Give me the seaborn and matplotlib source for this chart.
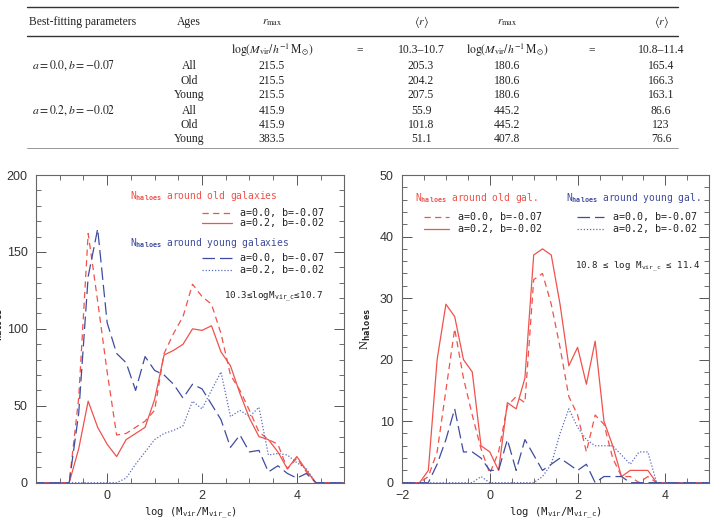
import numpy as np
import pandas as pd
import seaborn as sns
import matplotlib.pyplot as plt
from matplotlib.ticker import MultipleLocator

# ---- table values ----
params = [r'$a = 0.0, b = -0.07$', r'$a = 0.2, b = -0.02$']
ages = ['All', 'Old', 'Young', 'All', 'Old', 'Young']
rmax_low = ['215.5', '215.5', '215.5', '415.9', '415.9', '383.5']
rmean_low = ['205.3', '204.2', '207.5', '55.9', '101.8', '51.1']
rmax_high = ['180.6', '180.6', '180.6', '445.2', '445.2', '407.8']
rmean_high = ['165.4', '166.3', '163.1', '86.6', '123', '76.6']

# ---- left panel: 10.3 <= log M_vir_c <= 10.7 ----
x_left = [-1.6, -1.4, -1.2, -1.0, -0.8, -0.6, -0.4, -0.2, 0.0, 0.2, 0.4, 0.6,
          0.8, 1.0, 1.2, 1.4, 1.6, 1.8, 2.0, 2.2, 2.4, 2.6, 2.8, 3.0, 3.2, 3.4,
          3.6, 3.8, 4.0, 4.2, 4.4, 4.6, 4.8, 5.0]
old_a0_left = [0, 0, 0, 0, 0, 55, 162, 118, 72, 31, 32, 36, 40, 47, 84, 97,
               108, 129, 121, 116, 97, 70, 60, 47, 33, 28, 25, 9, 16, 7, 0, 0, 0, 0]
old_a2_left = [0, 0, 0, 0, 0, 22, 53, 36, 25, 17, 28, 32, 36, 54, 83, 86,
               90, 100, 99, 102, 85, 76, 58, 42, 30, 28, 20, 9, 17, 8, 0, 0, 0, 0]
young_a0_left = [0, 0, 0, 0, 0, 45, 134, 165, 104, 84, 78, 60, 82, 73, 70, 64,
                 55, 64, 61, 51, 41, 23, 31, 20, 21, 7, 11, 6, 3, 6, 0, 0, 0, 0]
young_a2_left = [0, 0, 0, 0, 0, 0, 0, 0, 0, 0, 3, 12, 20, 28, 32, 34,
                 37, 53, 48, 60, 72, 43, 47, 43, 49, 18, 19, 18, 13, 9, 0, 0, 0, 0]

# ---- right panel: 10.8 <= log M_vir_c <= 11.4 ----
x_right = [-2.0, -1.8, -1.6, -1.4, -1.2, -1.0, -0.8, -0.6, -0.4, -0.2, 0.0, 0.2,
           0.4, 0.6, 0.8, 1.0, 1.2, 1.4, 1.6, 1.8, 2.0, 2.2, 2.4, 2.6, 2.8, 3.0,
           3.2, 3.4, 3.6, 3.8, 4.0, 4.2, 4.4, 4.6, 4.8, 5.0]
old_a0_right = [0, 0, 0, 1, 5, 15, 25, 17, 11, 5.5, 1.5, 5, 12.5, 14, 13, 33,
                34, 29, 22, 14, 11, 5, 11, 9.5, 4, 1, 1, 0, 1, 0, 0, 0, 0, 0, 0, 0]
old_a2_right = [0, 0, 0, 2, 20, 29, 27, 20, 18, 6, 5, 2, 13, 12, 17, 37,
                38, 37, 29, 19, 22, 16, 23, 10, 6, 1, 2, 2, 2, 0, 0, 0, 0, 0, 0, 0]
young_a0_right = [0, 0, 0, 0, 3, 7, 12, 5, 5, 4, 2, 2, 7, 2, 7, 4.5,
                  2, 3, 4, 3, 2, 3, 0, 1, 1, 1, 0, 0, 0, 0, 0, 0, 0, 0, 0, 0]
young_a2_right = [0, 0, 0, 0, 0, 0, 0, 0, 0, 1, 0, 0, 0, 0, 0, 0,
                  1, 3, 8, 12, 9, 7, 6, 6, 6, 4.5, 3, 5, 5, 0, 0, 0, 0, 0, 0, 0]

RED = '#f0524c'
BLUE = '#3f4c9e'
BLUE_DOT = '#5c6cb8'
MONO = ['DejaVu Sans Mono']

sns.set_style('ticks')
plt.rcParams['font.family'] = ['Liberation Sans', 'DejaVu Sans']
plt.rcParams['mathtext.fontset'] = 'custom'
plt.rcParams['mathtext.rm'] = 'DejaVu Sans Mono'
plt.rcParams['mathtext.it'] = 'DejaVu Sans Mono'
plt.rcParams['mathtext.bf'] = 'DejaVu Sans Mono:bold'

styles = {
    'old_a0': dict(color=RED, linestyle=(0, (5, 3.5))),
    'old_a2': dict(color=RED, linestyle='-'),
    'young_a0': dict(color=BLUE, linestyle=(0, (10, 4))),
    'young_a2': dict(color=BLUE_DOT, linestyle=(0, (1, 1.5))),
}

fig = plt.figure(figsize=(7.14, 5.2), dpi=100)

# ---- table ----
W, H = 714.0, 520.0
def ft(px, py, s, ha='center', **kw):
    fig.text(px / W, 1 - py / H, s, ha=ha, va='center', fontsize=8.4,
             family=['Liberation Serif', 'DejaVu Serif'], math_fontfamily='stix',
             color='#222222', **kw)

for yy, lw, c in [(7, 1.0, '#333333'), (36, 1.0, '#333333'), (148, 0.6, '#888888')]:
    fig.add_artist(plt.Line2D([27 / W, 678 / W], [1 - yy / H] * 2, color=c, lw=lw))

ft(29, 22, 'Best-fitting parameters', ha='left')
ft(189, 22, 'Ages')
ft(272, 22, r'$r_{\rm max}$')
ft(421, 22, r'$\langle r\rangle$')
ft(507, 22, r'$r_{\rm max}$')
ft(661, 22, r'$\langle r\rangle$')
ft(272, 50, r'$\log(M_{\rm vir}/h^{-1}\,{\rm M}_{\odot})$')
ft(360, 50, '=')
ft(421, 50, '10.3–10.7')
ft(507, 50, r'$\log(M_{\rm vir}/h^{-1}\,{\rm M}_{\odot})$')
ft(592, 50, '=')
ft(661, 50, '10.8–11.4')
row_y = [66, 81, 95, 111, 125, 139]
ft(32, row_y[0], params[0], ha='left')
ft(32, row_y[3], params[1], ha='left')
for i, yy in enumerate(row_y):
    ft(189, yy, ages[i])
    ft(272, yy, rmax_low[i])
    ft(421, yy, rmean_low[i])
    ft(507, yy, rmax_high[i])
    ft(661, yy, rmean_high[i])

# ---- panels ----
ax1 = fig.add_axes([36 / W, 1 - 482.7 / H, 308.3 / W, 307.7 / H])
ax2 = fig.add_axes([402 / W, 1 - 482.7 / H, 307.3 / W, 307.7 / H])

panels = [
    (ax1, x_left, [old_a0_left, old_a2_left, young_a0_left, young_a2_left]),
    (ax2, x_right, [old_a0_right, old_a2_right, young_a0_right, young_a2_right]),
]
for ax, xs, series in panels:
    for key, ys in zip(['old_a0', 'old_a2', 'young_a0', 'young_a2'], series):
        df = pd.DataFrame({'x': xs, 'y': ys})
        sns.lineplot(data=df, x='x', y='y', ax=ax, lw=0.9, errorbar=None,
                     **styles[key])

ax1.set_xlim(-1.5, 5)
ax1.set_ylim(0, 200)
ax1.yaxis.set_major_locator(MultipleLocator(50))
ax1.yaxis.set_minor_locator(MultipleLocator(10))
ax2.set_xlim(-2, 5)
ax2.set_ylim(0, 50)
ax2.yaxis.set_major_locator(MultipleLocator(10))
ax2.yaxis.set_minor_locator(MultipleLocator(2))

for ax in (ax1, ax2):
    ax.xaxis.set_major_locator(MultipleLocator(2))
    ax.xaxis.set_minor_locator(MultipleLocator(0.5))
    ax.tick_params(which='both', direction='in', top=True, right=True,
                   color='#555555', labelsize=9, labelcolor='#333333')
    ax.tick_params(which='major', length=7, width=0.7)
    ax.tick_params(which='minor', length=3.5, width=0.6)
    ax.tick_params(axis='x', which='major', pad=5)
    ax.tick_params(axis='y', which='major', pad=6)
    for sp in ax.spines.values():
        sp.set_color('#666666')
        sp.set_linewidth(0.8)
    ax.set_xlabel(r'log (M$_{\rm vir}$/M$_{\rm vir\_c}$)', family=MONO,
                  fontsize=7.6, color='#222222')
    ax.xaxis.set_label_coords(0.5, -0.072)
    ax.set_ylabel(r'N$_{\bf haloes}$', family=['Liberation Serif'],
                  fontsize=9, color='#222222')

ax1.yaxis.set_label_coords(-0.102, 0.5)
ax2.yaxis.set_label_coords(-0.095, 0.5)

def key_text(ax, x0, x1, y, style, label):
    ax.plot([x0, x1], [y, y], transform=ax.transAxes, lw=0.9, **style)
    ax.text(x1 + 0.028, y, label, transform=ax.transAxes, ha='left', va='center',
            family=MONO, fontsize=7.2, color='#222222')

# left panel legend
ax1.text(0.305, 0.931, r'N$_{\bf haloes}$ around old galaxies', transform=ax1.transAxes,
         family=MONO, fontsize=6.9, color=RED, va='center')
key_text(ax1, 0.537, 0.635, 0.877, styles['old_a0'], 'a=0.0, b=-0.07')
key_text(ax1, 0.537, 0.635, 0.845, styles['old_a2'], 'a=0.2, b=-0.02')
ax1.text(0.305, 0.780, r'N$_{\bf haloes}$ around young galaxies', transform=ax1.transAxes,
         family=MONO, fontsize=6.9, color=BLUE, va='center')
key_text(ax1, 0.537, 0.635, 0.729, styles['young_a0'], 'a=0.0, b=-0.07')
key_text(ax1, 0.537, 0.635, 0.691, styles['young_a2'], 'a=0.2, b=-0.02')
ax1.text(0.932, 0.604, r'10.3≤logM$_{\rm vir\_c}$≤10.7', transform=ax1.transAxes,
         family=MONO, fontsize=6.7, color='#222222', ha='right', va='center')

# right panel legend
ax2.text(0.043, 0.924, r'N$_{\bf haloes}$ around old gal.', transform=ax2.transAxes,
         family=MONO, fontsize=6.9, color=RED, va='center')
key_text(ax2, 0.071, 0.153, 0.862, styles['old_a0'], 'a=0.0, b=-0.07')
key_text(ax2, 0.071, 0.153, 0.823, styles['old_a2'], 'a=0.2, b=-0.02')
ax2.text(0.971, 0.924, r'N$_{\bf haloes}$ around young gal.', transform=ax2.transAxes,
         family=MONO, fontsize=6.9, color=BLUE, va='center', ha='right')
key_text(ax2, 0.570, 0.657, 0.862, styles['young_a0'], 'a=0.0, b=-0.07')
key_text(ax2, 0.570, 0.657, 0.823, styles['young_a2'], 'a=0.2, b=-0.02')
ax2.text(0.971, 0.701, r'10.8 ≤ log M$_{\rm vir\_c}$ ≤ 11.4', transform=ax2.transAxes,
         family=MONO, fontsize=6.6, color='#222222', ha='right', va='center')

fig.savefig('out.png', dpi=100)
